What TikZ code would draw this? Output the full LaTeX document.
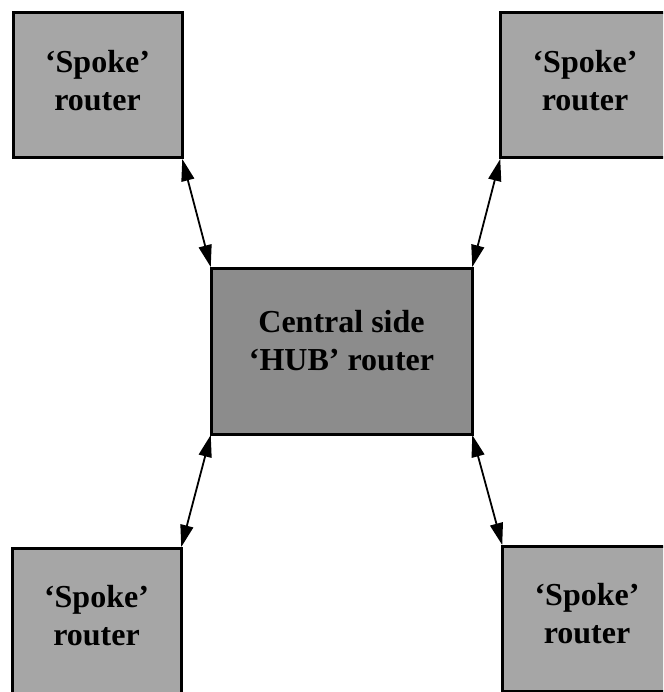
\documentclass[tikz,border=0pt]{standalone}
\usepackage{fontspec}
\setmainfont{Liberation Serif}
\usetikzlibrary{arrows.meta}
\definecolor{spokegray}{RGB}{166,166,166}
\definecolor{hubgray}{RGB}{140,140,140}
\tikzset{
  box/.style={draw=black, line width=3pt, inner sep=0pt, outer sep=0pt, align=center,
    font=\fontsize{32}{38}\selectfont\bfseries},
  spoke/.style={box, fill=spokegray, minimum width=169pt, minimum height=145pt},
  hub/.style={box, fill=hubgray, minimum width=261pt, minimum height=166pt},
  link/.style={line width=1.8pt, {Triangle[length=22pt,width=13pt]}-{Triangle[length=22pt,width=13pt]}, shorten <=1pt, shorten >=1pt}
}
\begin{document}
\begin{tikzpicture}[x=1pt,y=-1pt]
\useasboundingbox (0,0) rectangle (663,692);
\clip (0,0) rectangle (663,692);
\node[spoke] (tl) at (97.5,85.5) {‘Spoke’\\router\\[-39pt]\strut};
\node[spoke] (tr) at (585,85.5) {‘Spoke’\\router\\[-39pt]\strut};
\node[hub] (hub) at (341.5,351) {Central side\\‘HUB’ router\\[-29pt]\strut};
\node[spoke] (bl) at (96.5,620.5) {‘Spoke’\\router\\[-39pt]\strut};
\node[spoke] (br) at (587,618.5) {‘Spoke’\\router\\[-39pt]\strut};
\draw[link] (tl.south east) -- (hub.north west);
\draw[link] (tr.south west) -- (hub.north east);
\draw[link] (hub.south west) -- (bl.north east);
\draw[link] (hub.south east) -- (br.north west);
\end{tikzpicture}
\end{document}
